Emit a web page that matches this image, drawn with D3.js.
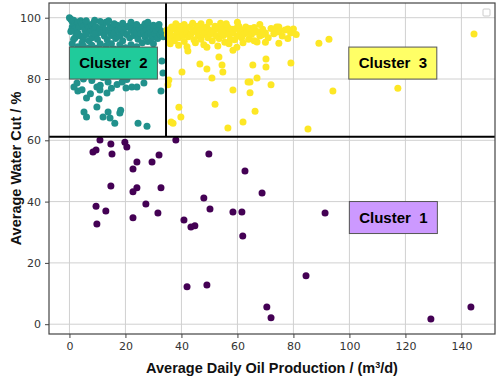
<!DOCTYPE html>
<html>
<head>
<meta charset="utf-8">
<script src="https://cdn.jsdelivr.net/npm/d3@7"></script>
<style>
  body { margin: 0; background: #fff; }
  text { font-family: "Liberation Sans", Arial, sans-serif; }
</style>
</head>
<body>
<div id="chart"></div>
<script>
// cluster 1 (purple) - low water cut wells
const cluster1 = [
  [8.4, 56.2], [9.5, 56.8], [10.9, 60.1], [14.8, 58.8], [15.2, 55.5], [19.8, 59.4], [20.5, 57.8],
  [24.1, 52.9], [22.7, 50.6], [29.5, 52.9], [32.0, 55.2], [38.0, 60.1], [49.8, 55.5], [14.8, 45.1],
  [24.1, 44.5], [22.7, 43.2], [32.7, 44.5], [9.5, 38.5], [13.0, 36.9], [9.8, 32.7], [27.3, 39.2],
  [22.7, 34.7], [31.6, 36.3], [40.9, 34.0], [43.4, 31.7], [44.8, 32.1], [48.0, 41.2], [50.2, 37.6],
  [58.4, 36.6], [61.6, 36.6], [61.9, 28.8], [62.7, 50.0], [42.0, 12.2], [49.1, 12.8], [68.8, 42.8],
  [91.3, 36.3], [84.5, 15.8], [70.5, 5.6], [72.0, 2.1], [129.1, 1.7], [143.4, 5.6]
];

// cluster 2 (teal) - low production, high water cut
const cluster2 = [
  [0, 100], [0.5, 99.5], [1, 98.8], [1.5, 99.2], [2, 98], [2.5, 97.5], [3, 98.6], [1, 97], [0.8, 96],
  [2, 96.5], [3.5, 97], [4, 99], [4.5, 98], [5, 97.2], [5.5, 96], [6, 98.5], [6.5, 97.8], [7, 96.8],
  [7.5, 95.5], [8, 97.5], [8.5, 98.2], [9, 96.2], [9.5, 97], [10, 95], [3, 95], [4, 94], [5, 93],
  [6, 94.5], [7, 92.5], [8, 93.5], [9, 94.8], [10, 93], [11, 96.5], [11.5, 95.2], [12, 97.8],
  [12.5, 94], [13, 96], [13.5, 92.8], [14, 95.5], [14.5, 97], [15, 94.2], [15.5, 96.8], [16, 95],
  [16.5, 93.2], [17, 97.5], [17.5, 95.8], [18, 94], [18.5, 96.5], [19, 92.5], [19.5, 95], [20, 96.8],
  [20.5, 94.5], [21, 97.2], [21.5, 93.5], [22, 95.8], [22.5, 97], [23, 94.2], [23.5, 96], [24, 95],
  [24.5, 93], [25, 96.5], [25.5, 94.8], [26, 97], [26.5, 95.5], [27, 93.8], [27.5, 96.2], [28, 94.5],
  [28.5, 96.8], [29, 95.2], [29.5, 93.5], [30, 96], [30.5, 94.8], [31, 95.8], [31.5, 93.2], [32, 96.5],
  [32.5, 94.5], [33, 95.5], [33.5, 93.8], [34, 95], [2, 93.5], [1, 91.5], [3, 90.5], [4.5, 91.8],
  [6, 89.5], [8, 91], [9.5, 90], [11, 91.5], [12, 89], [13, 90.8], [15, 91.5], [16, 89.8], [18, 91.2],
  [20, 90.2], [22, 91.2], [24, 90.5], [26, 91.8], [28, 92.2], [30, 91.5], [17, 88.5], [6, 99], [9, 99.2],
  [13, 98.5], [16, 98], [19, 98.2], [11, 98.8], [14, 99], [22, 98.5], [27, 98], [24, 97.8], [30, 97.5],
  [32, 97.8], [28, 98.5], [7, 90.2], [2.5, 94.8], [0.5, 95.5], [1.5, 93], [5, 90.8],
  [2.7, 78.7], [1.6, 77.4], [3, 76.1], [6.1, 73.8], [5.2, 69.2], [6.1, 67.6], [9.8, 70.9], [10.6, 73.5],
  [9.8, 77.4], [10.9, 76.4], [13.4, 75.4], [13.8, 79], [12, 67.6], [13.8, 69.2], [14.5, 67.3],
  [16.2, 65.6], [18, 68.9], [18.3, 69.8], [18.8, 79], [20.2, 77.1], [22.3, 77.4], [24.1, 77.4],
  [26.6, 78.7], [24.5, 65.6], [27.7, 64.6], [32.7, 76.1], [33, 85.9], [33.4, 82], [12, 80.5], [11, 78],
  [8, 79.5], [5, 80], [15, 77], [4.5, 76.5], [7.5, 75.2], [20.5, 79.8], [17, 78.2], [22, 84], [28, 86],
  [30, 88], [25, 88.5], [10, 87], [5, 86.5], [2, 85]
];

// cluster 3 (yellow) - higher production, high water cut
const cluster3 = [
  [34.8, 96], [35, 94.5], [35.5, 93], [36, 95.5], [36.5, 97], [37, 94], [37.5, 92.5], [38, 96.2],
  [38.5, 95], [39, 93.5], [39.5, 97.2], [40, 95.8], [40.5, 94.2], [41, 92.2], [41.5, 96.5], [42, 95],
  [42.5, 93.8], [43, 97], [43.5, 94.8], [44, 96], [44.5, 92.8], [45, 95.5], [45.5, 97.2], [46, 94],
  [46.5, 95.8], [47, 93], [47.5, 96.8], [48, 94.5], [48.5, 95.2], [49, 97], [49.5, 93.5], [50, 96],
  [50.5, 94.8], [51, 92.5], [51.5, 95.5], [52, 97.2], [52.5, 94], [53, 96.5], [53.5, 93.2], [54, 95],
  [54.5, 96.8], [55, 94.2], [55.5, 92], [56, 95.8], [56.5, 97], [57, 94.5], [57.5, 93], [58, 96.2],
  [58.5, 95], [59, 92.8], [59.5, 96.5], [60, 94], [60.5, 97.2], [61, 95.5], [61.5, 93.5], [62, 96],
  [62.5, 94.8], [63, 97], [63.5, 95.2], [64, 93], [64.5, 96.5], [65, 94.5], [66, 96.8], [67, 95.5],
  [68, 94], [69, 96.2], [70, 95], [71, 93.5], [72, 96.5], [73, 94.8], [74, 97], [75, 95.5], [76, 94],
  [77, 96], [78, 93.2], [79, 95], [80, 96.3], [81, 94.5], [36, 91.5], [39, 91], [42, 90.5], [45, 91.8],
  [48, 91.2], [53, 90.8], [57, 91.5], [62, 91.8], [66, 92.5], [70, 92], [38, 98], [44, 98.2], [50, 98.5],
  [56, 98], [60, 98.5], [68, 97.8], [37, 96.8], [41, 97.8], [47, 98], [54, 98.2],
  [66.3, 95.3], [68.8, 94.4], [67.0, 92.1], [74.8, 97.0], [74.1, 95.3], [78.0, 96.3], [74.8, 91.7],
  [89.1, 91.7], [92.7, 93.0], [70.2, 86.5], [65.5, 84.6], [70.2, 83.9], [79.1, 85.2], [67.0, 80.3],
  [64.5, 79.0], [72.0, 78.1], [64.5, 75.5], [94.1, 76.1], [66.3, 69.5], [85.2, 63.7], [117.3, 77.0],
  [144.5, 94.7], [42.3, 89.1], [49.1, 90.4], [46.6, 84.9], [49.1, 83.3], [40.2, 82.3], [53.4, 87.2],
  [54.5, 84.6], [54.8, 82.3], [50.9, 80.3], [35.5, 79.7], [35.2, 78.1], [58.4, 76.4], [63.8, 79.0],
  [52.0, 71.8], [39.1, 70.8], [39.8, 67.6], [36.3, 66.0], [37.0, 65.6], [56.6, 64.0], [62.0, 66.0],
  [58.4, 89.4], [59.8, 90.4]
];

const xTicks = [0, 20, 40, 60, 80, 100, 120, 140];
const yTicks = [0, 20, 40, 60, 80, 100];

// cluster boundaries
const splitX = 34.5;
const splitY = 61.2;

// label boxes: centre in data units
const labels = [
  { text: 'Cluster  2', x: 15.7, y: 85.2, fill: '#20cb9b' },
  { text: 'Cluster  3', x: 115.5, y: 85.2, fill: '#ffff66' },
  { text: 'Cluster  1', x: 115.7, y: 34.8, fill: '#cc99ff' }
];

const width = 498, height = 379;
const margin = { top: 3, right: 3, bottom: 45, left: 49 };

const x = d3.scaleLinear().domain([-7.3, 152]).range([margin.left, width - margin.right]);
const y = d3.scaleLinear().domain([-3.2, 104.8]).range([height - margin.bottom, margin.top]);

const svg = d3.select('#chart').append('svg')
  .attr('width', width)
  .attr('height', height);

// grid
svg.append('g').selectAll('line').data(xTicks).enter().append('line')
  .attr('x1', d => x(d)).attr('x2', d => x(d))
  .attr('y1', margin.top).attr('y2', height - margin.bottom)
  .attr('stroke', '#d0d0d0').attr('stroke-width', 1);
svg.append('g').selectAll('line').data(yTicks).enter().append('line')
  .attr('y1', d => y(d)).attr('y2', d => y(d))
  .attr('x1', margin.left).attr('x2', width - margin.right)
  .attr('stroke', '#d0d0d0').attr('stroke-width', 1);

// axes
let xAxis = svg.append('g')
  .attr('transform', 'translate(0,' + (height - margin.bottom) + ')')
  .call(d3.axisBottom(x).tickValues(xTicks).tickSize(4).tickPadding(4));
let yAxis = svg.append('g')
  .attr('transform', 'translate(' + margin.left + ',0)')
  .call(d3.axisLeft(y).tickValues(yTicks).tickSize(4).tickPadding(4));
[xAxis, yAxis].forEach(a => {
  a.select('.domain').remove();
  a.selectAll('line').attr('stroke', '#444');
  a.selectAll('text').attr('fill', '#333').style('font-size', '11px')
    .style('font-family', '"DejaVu Sans", sans-serif');
});

// points
const groups = [
  { data: cluster2, color: '#21918c' },
  { data: cluster3, color: '#fde725' },
  { data: cluster1, color: '#440154' }
];
groups.forEach(g => {
  svg.append('g').selectAll('circle').data(g.data).enter().append('circle')
    .attr('cx', d => x(d[0]))
    .attr('cy', d => y(d[1]))
    .attr('r', 3.5)
    .attr('fill', g.color);
});

// dividing lines
svg.append('line')
  .attr('x1', margin.left).attr('x2', width - margin.right)
  .attr('y1', y(splitY)).attr('y2', y(splitY))
  .attr('stroke', '#000').attr('stroke-width', 2);
svg.append('line')
  .attr('x1', x(splitX)).attr('x2', x(splitX))
  .attr('y1', margin.top).attr('y2', y(splitY))
  .attr('stroke', '#000').attr('stroke-width', 2);

// frame
svg.append('rect')
  .attr('x', margin.left).attr('y', margin.top)
  .attr('width', width - margin.left - margin.right)
  .attr('height', height - margin.top - margin.bottom)
  .attr('fill', 'none').attr('stroke', '#444').attr('stroke-width', 1.2);

// empty legend box
svg.append('rect')
  .attr('x', 483).attr('y', 9).attr('width', 7).attr('height', 7).attr('rx', 1)
  .attr('fill', '#fff').attr('stroke', '#ccc');

// cluster labels
let lab = svg.append('g').selectAll('g').data(labels).enter().append('g')
  .attr('transform', d => 'translate(' + x(d.x) + ',' + y(d.y) + ')');
lab.append('rect')
  .attr('x', -44).attr('y', -16).attr('width', 88).attr('height', 32)
  .attr('fill', d => d.fill).attr('stroke', '#555').attr('stroke-width', 1);
lab.append('text')
  .attr('text-anchor', 'middle').attr('dy', '0.36em')
  .style('font-size', '15px').style('font-weight', 'bold')
  .style('white-space', 'pre')
  .attr('fill', '#000')
  .text(d => d.text);

// axis titles
svg.append('text')
  .attr('x', (margin.left + width - margin.right) / 2)
  .attr('y', 373)
  .attr('text-anchor', 'middle')
  .style('font-size', '14.5px').style('font-weight', 'bold').attr('fill', '#111')
  .html('Average Daily Oil Production / (m<tspan dy="-5" font-size="9px">3</tspan><tspan dy="5">/d)</tspan>');
svg.append('text')
  .attr('transform', 'translate(16,' + ((margin.top + height - margin.bottom) / 2) + ') rotate(-90)')
  .attr('text-anchor', 'middle')
  .attr('dy', '0.35em')
  .style('font-size', '14.5px').style('font-weight', 'bold').attr('fill', '#111')
  .text('Average Water Cut / %');
</script>
</body>
</html>
